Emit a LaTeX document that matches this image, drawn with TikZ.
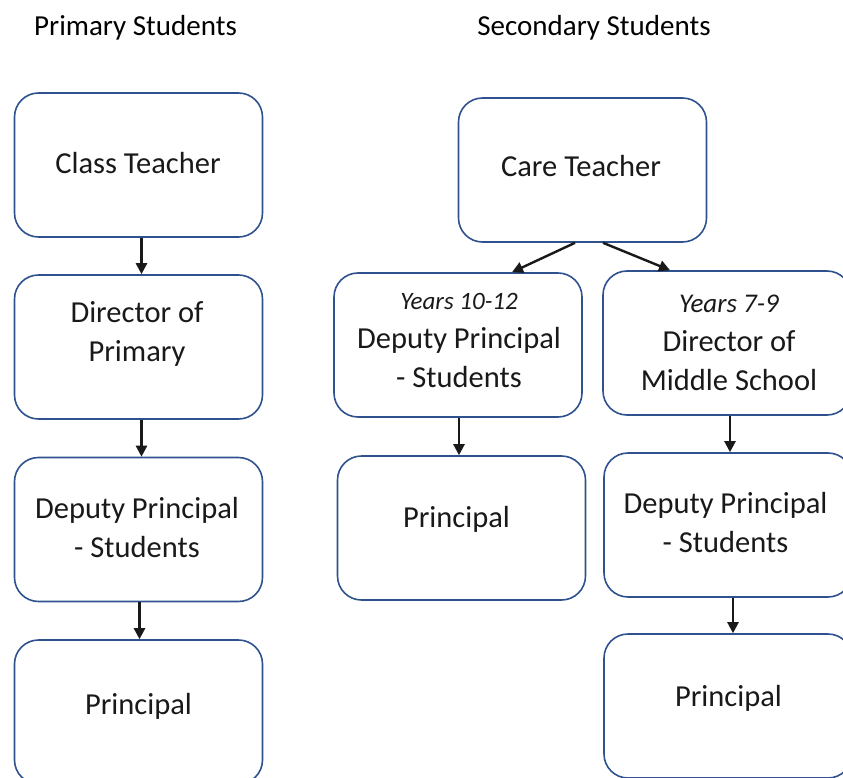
\documentclass[tikz,border=0pt]{standalone}
\usepackage{fontspec}
\setmainfont{Carlito}
\usetikzlibrary{arrows.meta,calc}
\definecolor{boxblue}{RGB}{47,82,143}
\definecolor{txtcol}{RGB}{25,25,25}
\begin{document}
\begin{tikzpicture}[x=1pt,y=-1pt,
  box/.style={draw=boxblue,line width=1.6pt,rounded corners=24pt,minimum width=248pt,minimum height=144pt,inner sep=0pt},
  txt/.style={font=\fontsize{30.5}{39}\selectfont,align=center,text=txtcol,inner sep=0pt},
  ttl/.style={font=\fontsize{29}{34}\selectfont,text=black,inner sep=0pt},
  arr/.style={line width=2.4pt,draw=txtcol,-{Triangle[length=11pt,width=11pt]}}]
\useasboundingbox (0,0) rectangle (843,778);
\clip (0,0) rectangle (843,778);
% titles
\node[ttl] (tp) at (135.5,28) {Primary Students};
\node[ttl] (ts) at (594,28) {Secondary Students};
% left column boxes
\node[box] (l1) at (138.5,165) {};
\node[box] (l2) at (138.5,347) {};
\node[box] (l3) at (138.5,529.5) {};
\node[box] (l4) at (138.5,712) {};
% right side boxes
\node[box] (ct) at (582.5,170) {};
\node[box] (ya) at (458,345) {};
\node[box] (yb) at (727,343) {};
\node[box] (pa) at (461.5,528) {};
\node[box] (dr) at (728,525) {};
\node[box] (pr) at (728,706) {};
% texts
\node[txt] (tl1) at (138,163) {Class Teacher};
\node[txt] (tl2) at (137,334) {Director of\\Primary};
\node[txt] (tl3) at (137,528) {Deputy Principal\\- Students};
\node[txt] (tl4) at (138.5,706) {Principal};
\node[txt] (tct) at (581,166) {Care Teacher};
\node[txt] (tya) at (459,341) {{\fontsize{25}{30}\itshape Years 10-12}\\Deputy Principal\\- Students};
\node[txt] (tyb) at (729,343) {{\fontsize{27}{30}\itshape Years 7-9}\\Director of\\Middle School};
\node[txt] (tpa) at (456.5,519) {Principal};
\node[txt] (tdr) at (725.5,523) {Deputy Principal\\- Students};
\node[txt] (tpr) at (728.5,698) {Principal};
% arrows
\draw[arr] ([xshift=3pt]l1.south) -- ([xshift=3pt]l2.north);
\draw[arr] ([xshift=3pt]l2.south) -- ([xshift=3pt]l3.north);
\draw[arr] ([xshift=1pt]l3.south) -- ([xshift=1pt]l4.north);
\draw[arr] ([xshift=-7.5pt]ct.south) -- ([xshift=54pt]ya.north);
\draw[arr] ([xshift=20.5pt]ct.south) -- ([xshift=-57pt]yb.north);
\draw[arr] ([xshift=1pt]ya.south) -- ([xshift=-2.5pt]pa.north);
\draw[arr] ([xshift=3pt]yb.south) -- ([xshift=2pt]dr.north);
\draw[arr] ([xshift=5pt]dr.south) -- ([xshift=5pt]pr.north);
\end{tikzpicture}
\end{document}
